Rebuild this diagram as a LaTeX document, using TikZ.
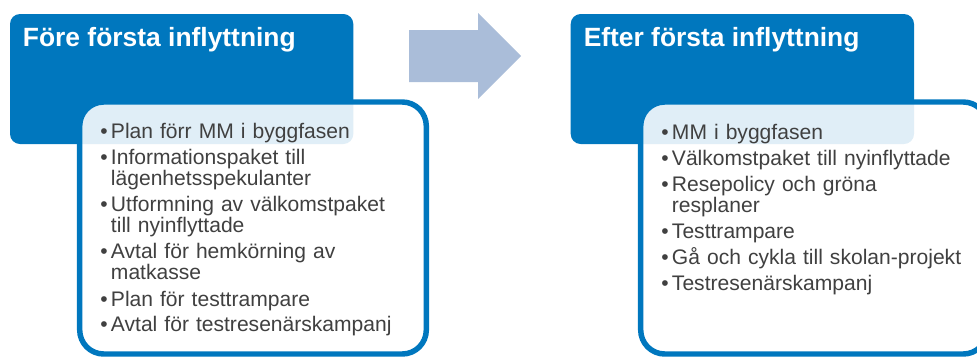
\documentclass[tikz,border=0pt]{standalone}
\usepackage{fontspec}
\setmainfont{Liberation Sans}
\usepackage{tikz}
\usetikzlibrary{shapes}

\definecolor{boxblue}{RGB}{0,119,190}
\definecolor{arrowblue}{RGB}{170,189,217}
\definecolor{itemgray}{RGB}{64,64,64}

\begin{document}
\begin{tikzpicture}[x=0.75pt,y=0.75pt,yscale=-1,xscale=1,
  headbox/.style={fill=boxblue,rounded corners=7.5pt},
  listbox/.style={draw=boxblue,line width=4.1pt,fill=white,fill opacity=0.88,rounded corners=18pt},
  headtext/.style={anchor=base west,inner sep=0pt,text=white,font=\fontsize{19.8}{23}\selectfont\bfseries},
  bulletdot/.style={anchor=base west,inner sep=0pt,text=itemgray,font=\fontsize{15.8}{16.1}\selectfont},
  itemtext/.style={anchor=base west,inner sep=0pt,text=itemgray,text width=300pt,align=left,font=\fontsize{15.8}{16.1}\selectfont}]
%uncomment if require: \path (0,358); %set diagram left start at 0, and has height of 358
\useasboundingbox (0,0) rectangle (977,358);
\clip (0,0) rectangle (977,358);

%Rounded Rect [id:fore-head] 
\fill  [headbox] (10,14) rectangle (353.3,144) ;
%Rounded Rect [id:fore-list] 
\draw  [listbox] (79.7,102) rectangle (426.3,354) ;

%Rounded Rect [id:efter-head] 
\fill  [headbox] (570.7,14) rectangle (914,144) ;
%Rounded Rect [id:efter-list] 
\draw  [listbox] (640.7,102) rectangle (987.3,354) ;

%Right Arrow [id:pil] 
\fill  [arrowblue] (409,30) -- (478,30) -- (478,13) -- (521,56) -- (478,99) -- (478,82) -- (409,82) -- cycle ;

% Före
\node [headtext] (fore-title) at (22.7,46.7) {Före första inflyttning};
\node [bulletdot] (fore-b1) at (100,138) {\textbullet};
\node [itemtext] (fore-i1) at (110.7,138) {Plan förr MM i byggfasen};
\node [bulletdot] (fore-b2) at (100,164) {\textbullet};
\node [itemtext] (fore-i2) at (110.7,164) {Informationspaket till\\lägenhetsspekulanter};
\node [bulletdot] (fore-b3) at (100,211.5) {\textbullet};
\node [itemtext] (fore-i3) at (110.7,211.5) {Utformning av välkomstpaket\\till nyinflyttade};
\node [bulletdot] (fore-b4) at (100,258.5) {\textbullet};
\node [itemtext] (fore-i4) at (110.7,258.5) {Avtal för hemkörning av\\matkasse};
\node [bulletdot] (fore-b5) at (100,306) {\textbullet};
\node [itemtext] (fore-i5) at (110.7,306) {Plan för testtrampare};
\node [bulletdot] (fore-b6) at (100,331) {\textbullet};
\node [itemtext] (fore-i6) at (110.7,331) {Avtal för testresenärskampanj};

% Efter
\node [headtext] (efter-title) at (583.5,46.7) {Efter första inflyttning};
\node [bulletdot] (efter-b1) at (661,139) {\textbullet};
\node [itemtext] (efter-i1) at (671.7,139) {MM i byggfasen};
\node [bulletdot] (efter-b2) at (661,165) {\textbullet};
\node [itemtext] (efter-i2) at (671.7,165) {Välkomstpaket till nyinflyttade};
\node [bulletdot] (efter-b3) at (661,191) {\textbullet};
\node [itemtext] (efter-i3) at (671.7,191) {Resepolicy och gröna\\resplaner};
\node [bulletdot] (efter-b4) at (661,238) {\textbullet};
\node [itemtext] (efter-i4) at (671.7,238) {Testtrampare};
\node [bulletdot] (efter-b5) at (661,264) {\textbullet};
\node [itemtext] (efter-i5) at (671.7,264) {Gå och cykla till skolan-projekt};
\node [bulletdot] (efter-b6) at (661,290) {\textbullet};
\node [itemtext] (efter-i6) at (671.7,290) {Testresenärskampanj};

\end{tikzpicture}
\end{document}
